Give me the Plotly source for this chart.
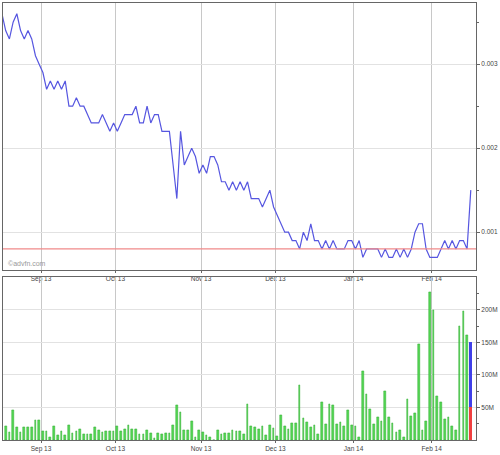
import pandas as pd
import plotly.graph_objects as go

# ---- data ----
holidays = ["2013-09-02", "2013-11-28", "2013-12-25", "2014-01-01", "2014-01-20", "2014-02-17"]
dates = list(pd.bdate_range("2013-08-16", "2014-02-18", freq="C", holidays=holidays))

price = [
    0.0036, 0.0034, 0.0033, 0.0035, 0.0036, 0.0034, 0.0033, 0.0034, 0.0033, 0.0031,
    0.0030, 0.0029, 0.0027, 0.0028, 0.0027, 0.0028, 0.0027, 0.0028, 0.0025, 0.0025,
    0.0026, 0.0025, 0.0025, 0.0024, 0.0023, 0.0023, 0.0023, 0.0024, 0.0023, 0.0022,
    0.0023, 0.0022, 0.0023, 0.0024, 0.0024, 0.0024, 0.0025, 0.0023, 0.0023, 0.0025,
    0.0023, 0.0024, 0.0024, 0.0022, 0.0022, 0.0022, 0.0018, 0.0014, 0.0022, 0.0018,
    0.0019, 0.0020, 0.0019, 0.0017, 0.0018, 0.0017, 0.0019, 0.0019, 0.0018, 0.0016,
    0.0016, 0.0015, 0.0016, 0.0015, 0.0016, 0.0015, 0.0016, 0.0014, 0.0014, 0.0014,
    0.0013, 0.0014, 0.0015, 0.0013, 0.0012, 0.0011, 0.0010, 0.0010, 0.0009, 0.0009,
    0.0008, 0.0010, 0.0009, 0.0011, 0.0009, 0.0009, 0.0008, 0.0009, 0.0008, 0.0009,
    0.0008, 0.0008, 0.0008, 0.0009, 0.0009, 0.0008, 0.0009, 0.0007, 0.0008, 0.0008,
    0.0008, 0.0008, 0.0007, 0.0008, 0.0007, 0.0007, 0.0008, 0.0007, 0.0008, 0.0007,
    0.0008, 0.0010, 0.0011, 0.0011, 0.0008, 0.0007, 0.0007, 0.0007, 0.0008, 0.0009,
    0.0008, 0.0009, 0.0008, 0.0009, 0.0009, 0.0008, 0.0015,
]

# volume in millions (first day not shown)
volume = [
    None,
    21.7, 11.6, 45.0, 19.7, 11.6, 19.7, 19.7, 20.2, 29.8, 30.8,
    13.1, 13.6, 5.0, 21.7, 6.6, 13.6, 8.0, 23.2, 11.1, 13.1,
    16.2, 8.6, 8.6, 8.6, 20.2, 14.6, 11.6, 14.1, 13.1, 13.1,
    20.7, 13.1, 16.7, 23.2, 17.2, 17.2, 9.1, 9.1, 15.7, 10.6,
    3.0, 10.1, 9.6, 10.3, 11.1, 22.0, 52.8, 42.7, 15.2, 14.6,
    29.5, 4.5, 14.6, 12.3, 6.8, 4.5, 0.0, 15.7, 9.1, 10.6,
    10.6, 14.6, 14.1, 14.1, 9.6, 54.5, 20.7, 19.0, 17.0, 21.2,
    7.8, 22.5, 17.5, 5.8, 37.6, 21.5, 16.7, 26.5, 26.5, 84.8,
    33.0, 27.3, 19.0, 22.0, 9.4, 57.8, 23.5, 55.5, 54.0, 24.2,
    26.7, 21.5, 46.0, 23.2, 21.5, 4.3, 105.0, 70.0, 47.0, 24.2,
    34.8, 29.3, 75.2, 34.8, 25.7, 12.3, 14.3, 5.0, 63.0, 35.8,
    40.9, 147.0, 15.1, 29.3, 227.7, 200.0, 67.4, 58.6, 31.3, 34.3,
    21.0, 15.4, 174.5, 197.2, 161.6, None,
]
last_day_parts = [50.0, 99.5]   # red part, blue part of the last bar
ref_level = 0.0008

# month ticks
idx = list(range(len(dates)))
tickvals, ticktext = [], []
for i in range(1, len(dates)):
    if dates[i].month != dates[i - 1].month:
        tickvals.append(i - 0.5)
        ticktext.append(dates[i].strftime("%b %y"))

BW = 0.45
fig = go.Figure()
fig.add_trace(go.Scatter(x=idx, y=price, mode="lines", line=dict(color="#5656e0", width=1.2),
                         xaxis="x", yaxis="y", showlegend=False, hoverinfo="skip"))
fig.add_trace(go.Scatter(x=[idx[0] - 1, idx[-1] + 2], y=[ref_level, ref_level], mode="lines",
                         line=dict(color="#f08a8a", width=1.2), xaxis="x", yaxis="y", showlegend=False,
                         hoverinfo="skip"))
fig.add_trace(go.Bar(x=idx, y=volume, width=BW, marker=dict(color="#55d855", line=dict(color="#2aa82a", width=0.5)),
                     xaxis="x2", yaxis="y2", showlegend=False, hoverinfo="skip"))
fig.add_trace(go.Bar(x=[idx[-1]], y=[last_day_parts[0]], base=[0], width=BW,
                     marker=dict(color="#f04040", line=dict(width=0)), xaxis="x2", yaxis="y2", showlegend=False,
                     hoverinfo="skip"))
fig.add_trace(go.Bar(x=[idx[-1]], y=[last_day_parts[1]], base=[last_day_parts[0]], width=BW,
                     marker=dict(color="#4040e8", line=dict(width=0)), xaxis="x2", yaxis="y2", showlegend=False,
                     hoverinfo="skip"))

font = dict(family="Liberation Sans, Arial, sans-serif", size=6.5, color="#444")
xcommon = dict(range=[0.28, 127.4], tickvals=tickvals, ticktext=ticktext, showgrid=True,
               gridcolor="#c8c8c8", gridwidth=1, showline=True, linecolor="#666", linewidth=1,
               mirror=True, ticks="outside", ticklen=2, tickcolor="#666", tickfont=font, zeroline=False)
fig.update_layout(
    width=500, height=455, margin=dict(l=2, r=22, t=2, b=10),
    paper_bgcolor="white", plot_bgcolor="white", barmode="overlay", bargap=0,
    xaxis=dict(domain=[0, 1], anchor="y", **xcommon),
    xaxis2=dict(domain=[0, 1], anchor="y2", **xcommon),
    yaxis=dict(domain=[0.3889, 1], range=[0.000549, 0.003728], side="right", dtick=0.001, tick0=0,
               tickformat=".3f", showgrid=True, gridcolor="#e2e2e2", showline=True, linecolor="#666",
               mirror=True, ticks="outside", ticklen=3, tickcolor="#666", tickfont=font, zeroline=False,
               minor=dict(dtick=0.0005, ticks="outside", ticklen=2, tickcolor="#666", showgrid=False)),
    yaxis2=dict(domain=[0, 0.3725], range=[0, 250], side="right", tickvals=[50, 100, 150, 200],
                ticktext=["50M", "100M", "150M", "200M"], showgrid=True, gridcolor="#e2e2e2",
                showline=True, linecolor="#666", mirror=True, ticks="outside", ticklen=3, tickcolor="#666",
                tickfont=font, zeroline=False,
                minor=dict(tickvals=[25, 75, 125, 175, 225], ticks="outside", ticklen=2, tickcolor="#666", showgrid=False)),
)
fig.add_annotation(text="©advfn.com", xref="paper", yref="paper", x=0.006, y=0.3889, xanchor="left",
                   yanchor="bottom", showarrow=False, font=dict(family="Liberation Sans, Arial, sans-serif",
                                                                size=7, color="#999"), yshift=1)
fig.write_html("out.html", config={"displayModeBar": False},
               post_script="document.body.style.margin='0px';document.body.style.overflow='hidden';")
